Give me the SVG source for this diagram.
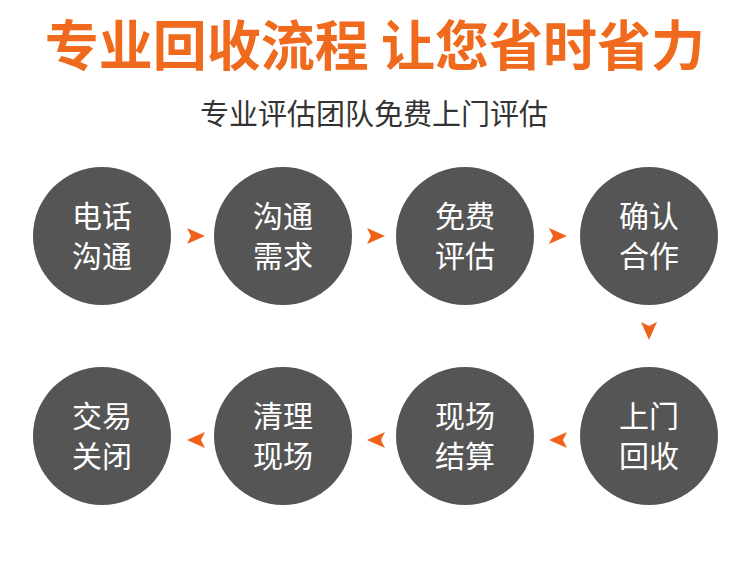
<svg xmlns="http://www.w3.org/2000/svg" width="748" height="578" viewBox="0 0 748 578">
<style>
.c{fill:#555555}
.t{fill:#ffffff;font-family:"Noto Sans CJK SC",sans-serif;font-size:30px;text-anchor:middle}
.a{fill:#f0621a}
</style>
<defs><path id="ar" d="M-9,-8 L9,0 L-9,8 L-5,0 Z" class="a"/></defs>
<rect width="748" height="578" fill="#ffffff"/>
<text x="375" y="66" text-anchor="middle" font-family="Noto Sans CJK SC,sans-serif" font-weight="bold" font-size="54" fill="#f06a1e">专业回收流程 让您省时省力</text>
<text x="374" y="125" text-anchor="middle" font-family="Noto Sans CJK SC,sans-serif" font-size="29" fill="#333333">专业评估团队免费上门评估</text>
<g id="connectors">
<use href="#ar" x="196" y="236"/>
<use href="#ar" x="376" y="236"/>
<use href="#ar" x="558" y="236"/>
<use href="#ar" transform="translate(649,331) rotate(90)"/>
<use href="#ar" transform="translate(558,440) rotate(180)"/>
<use href="#ar" transform="translate(376,440) rotate(180)"/>
<use href="#ar" transform="translate(196,440) rotate(180)"/>
</g>
<g id="n1"><circle class="c" cx="102" cy="236" r="69"/><text class="t" x="102" y="227">电话</text><text class="t" x="102" y="267">沟通</text></g>
<g id="n2"><circle class="c" cx="283" cy="236" r="69"/><text class="t" x="283" y="227">沟通</text><text class="t" x="283" y="267">需求</text></g>
<g id="n3"><circle class="c" cx="465" cy="236" r="69"/><text class="t" x="465" y="227">免费</text><text class="t" x="465" y="267">评估</text></g>
<g id="n4"><circle class="c" cx="649" cy="236" r="69"/><text class="t" x="649" y="227">确认</text><text class="t" x="649" y="267">合作</text></g>
<g id="n5"><circle class="c" cx="649" cy="436" r="69"/><text class="t" x="649" y="427">上门</text><text class="t" x="649" y="467">回收</text></g>
<g id="n6"><circle class="c" cx="465" cy="436" r="69"/><text class="t" x="465" y="427">现场</text><text class="t" x="465" y="467">结算</text></g>
<g id="n7"><circle class="c" cx="283" cy="436" r="69"/><text class="t" x="283" y="427">清理</text><text class="t" x="283" y="467">现场</text></g>
<g id="n8"><circle class="c" cx="102" cy="436" r="69"/><text class="t" x="102" y="427">交易</text><text class="t" x="102" y="467">关闭</text></g>
</svg>
